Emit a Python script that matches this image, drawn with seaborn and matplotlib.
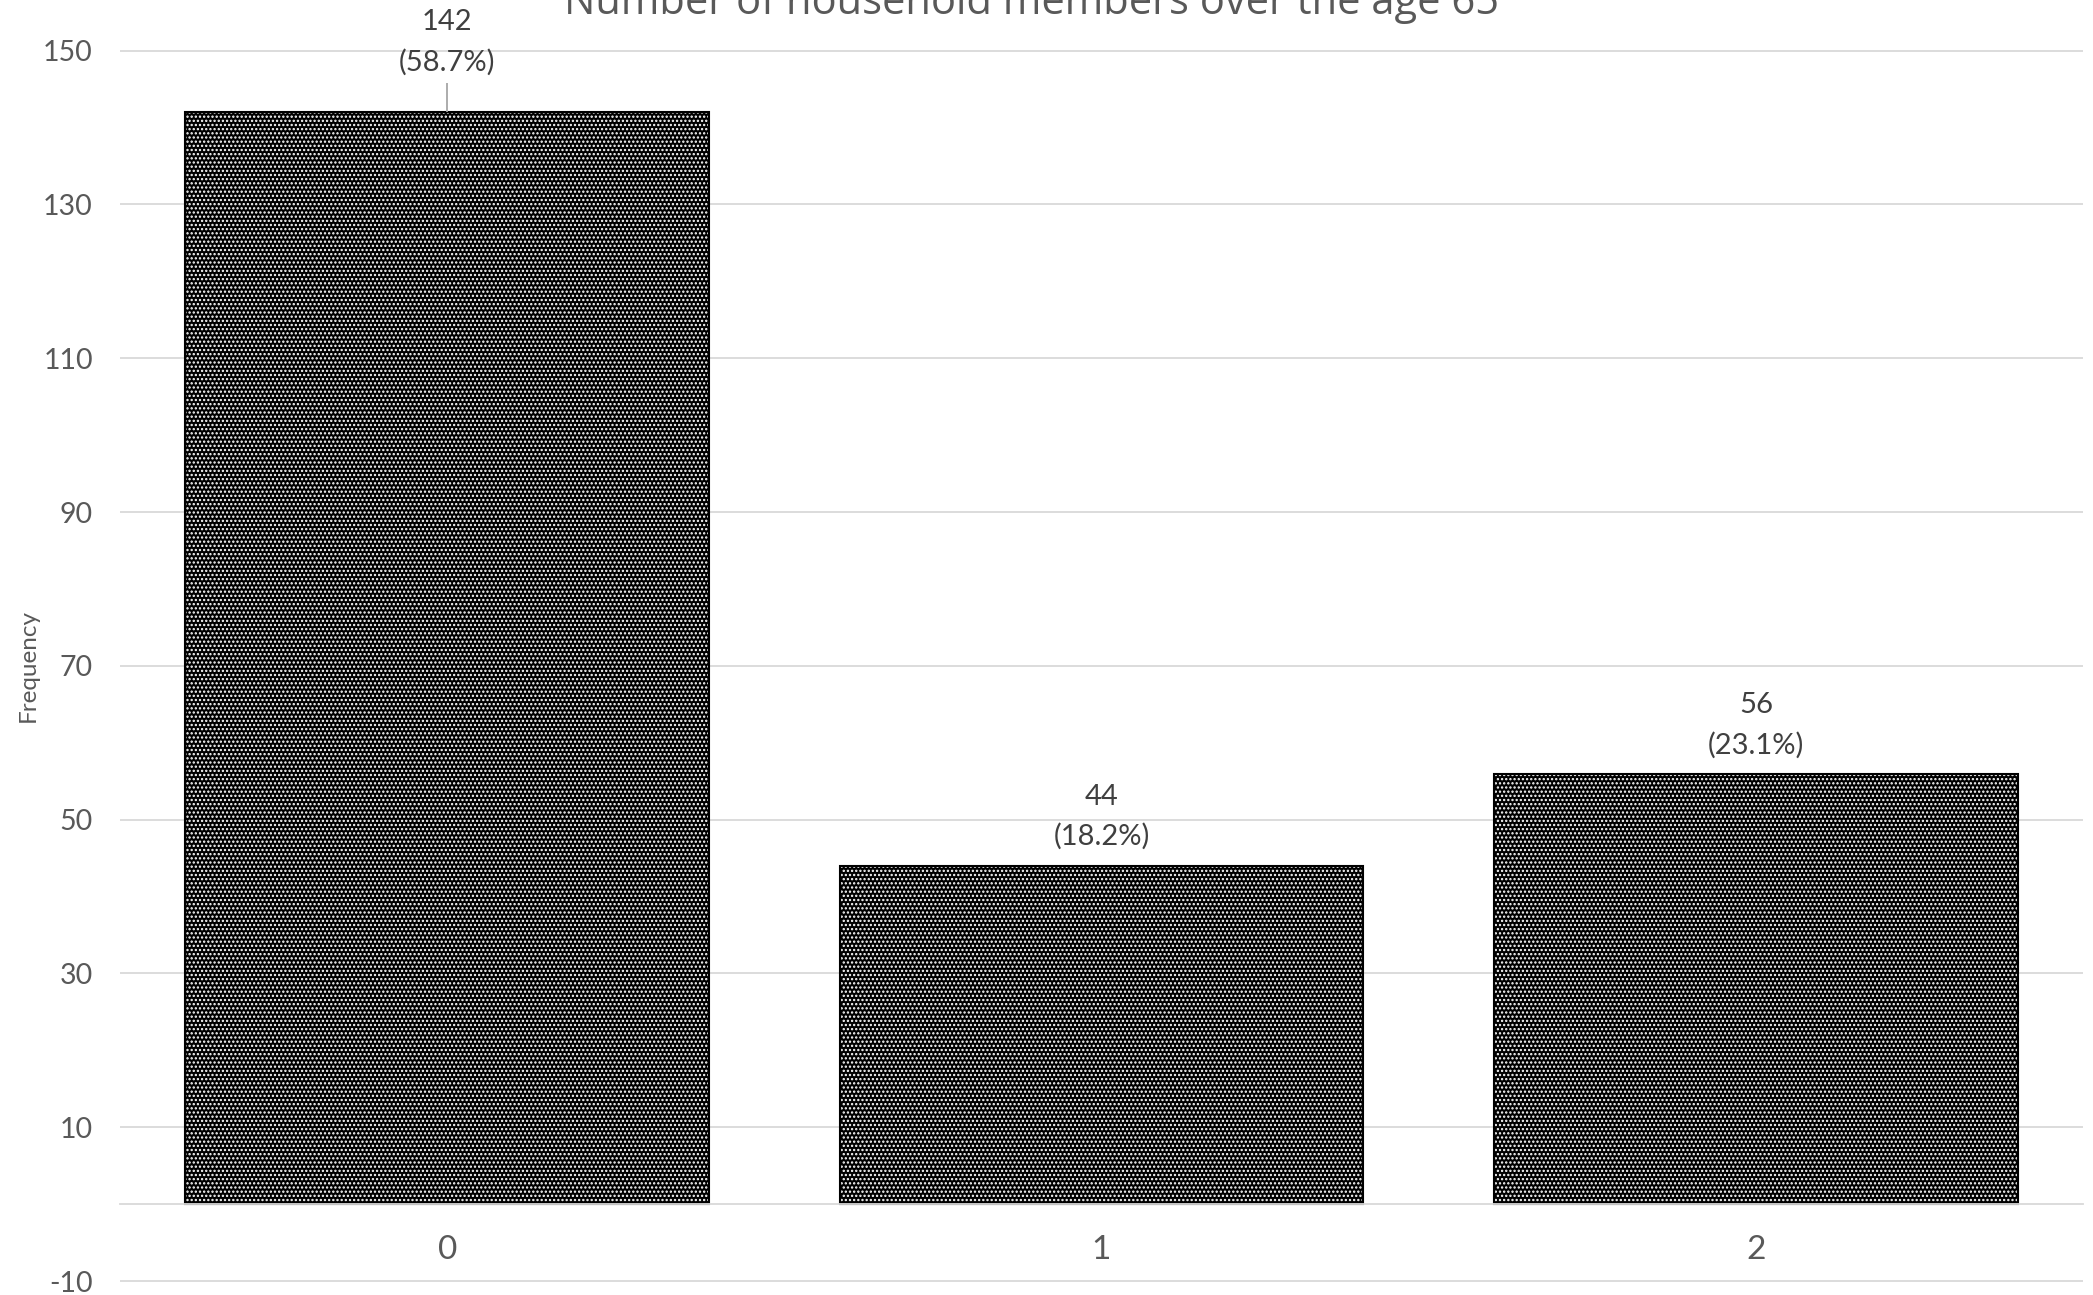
import numpy as np
import pandas as pd
import matplotlib
matplotlib.use("Agg")
import matplotlib.pyplot as plt
import matplotlib.colors as mcolors
import seaborn as sns

# ---- data ----
categories = ["0", "1", "2"]
counts = [142, 44, 56]
percent_labels = ["58.7%", "18.2%", "23.1%"]
y_ticks = [-10, 10, 30, 50, 70, 90, 110, 130, 150]
title_text = "Number of household members over the age 65"
y_label = "Frequency"

# ---- style ----
sns.set_theme(style="white")
plt.rcParams["font.family"] = ["Lato", "DejaVu Sans"]
plt.rcParams["hatch.linewidth"] = 1.1

W, H = 2093, 1295
fig = plt.figure(figsize=(W / 100, H / 100), dpi=100)
y_lo, y_hi = -10.15, 150.15
px_per_unit = (1281 - 50.7) / 160.0
top_px = 50.7 - 0.15 * px_per_unit
bot_px = 1281 + 0.15 * px_per_unit
ax = fig.add_axes([120 / W, 1 - bot_px / H, (2083 - 120) / W, (bot_px - top_px) / H])

df = pd.DataFrame({"members": categories, "count": counts})
sns.barplot(data=df, x="members", y="count", color="black", saturation=1,
            width=0.8, ax=ax, hatch="....", linewidth=0)

for p in ax.patches:
    p.set_facecolor("black")
    p.set_edgecolor("black")
    p.set_linewidth(1.5)
    if hasattr(p, "set_hatchcolor"):
        p.set_hatchcolor("white")
    else:
        p._hatch_color = mcolors.to_rgba("white")

ax.set_xlim(-0.5, 2.5)
ax.set_ylim(y_lo, y_hi)
ax.set_yticks(y_ticks)
ax.set_yticklabels([str(t) for t in y_ticks])
ax.yaxis.grid(True, color="#d9d9d9", linewidth=1.3)
ax.xaxis.grid(False)
ax.set_axisbelow(True)
for s in ["left", "right", "top"]:
    ax.spines[s].set_visible(False)
ax.spines["bottom"].set_position(("data", 0))
ax.spines["bottom"].set_color("#d9d9d9")
ax.spines["bottom"].set_linewidth(1.3)
ax.tick_params(axis="y", length=0, pad=19.5, labelsize=20.5, labelcolor="#595959")
ax.tick_params(axis="x", length=0, pad=22, labelsize=24, labelcolor="#595959")
ax.set_xlabel("")
ax.set_ylabel("")

# data labels
label_offsets_px = [70, 49, 48]
for i, (v, pct) in enumerate(zip(counts, percent_labels)):
    ax.annotate(f"{v}\n({pct})", xy=(i, v), xytext=(0, label_offsets_px[i]),
                textcoords="offset pixels", ha="center", va="center",
                fontsize=21, color="#404040", linespacing=1.62)
# leader line for the first (displaced) label
ax.vlines(0, counts[0], counts[0] + (112 - 83) / px_per_unit,
          color="#a6a6a6", linewidth=1.3)

fig.text(1031.5 / W, 1 - 14 / H, title_text, ha="center", va="baseline",
         fontsize=30, color="#595959", family=["Open Sans", "DejaVu Sans"])
fig.text(28 / W, 1 - 665 / H, y_label, rotation=90, ha="center", va="center",
         fontsize=17.5, color="#595959")

fig.savefig("out.png", dpi=100)
